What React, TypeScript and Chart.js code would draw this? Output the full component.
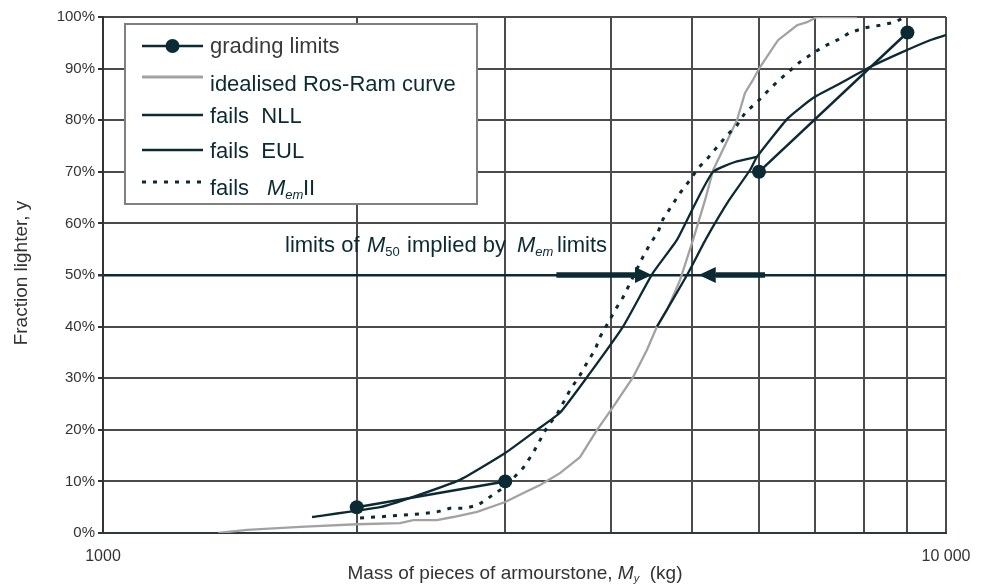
import React, { useEffect, useRef } from 'react';
import { Chart, registerables } from 'chart.js';

Chart.register(...registerables);

// ---------- data (mass in kg, fraction lighter in %) ----------
const gradingMass = [2000, 3000, 6000, 9000];
const gradingPct = [5, 10, 70, 97];

const rosRamMass = [1370, 1482, 1713, 2001, 2251, 2333, 2490, 2602, 2778, 3000, 3184, 3300, 3484, 3680, 3855, 4027, 4254, 4419, 4541, 4667, 4836, 5011, 5178, 5293, 5650, 5775, 5902, 6017, 6320, 6657, 6842, 7031, 7844];
const rosRamPct = [0, 0.6, 1.2, 1.7, 1.9, 2.5, 2.5, 3.1, 4.1, 6.0, 8.1, 9.3, 11.6, 14.7, 20, 24.4, 30.2, 35.5, 40, 43.2, 49, 56.8, 64.5, 70.3, 80, 85.3, 87.8, 90.3, 95.5, 98.4, 99, 100, 100];

const nllMass = [1770, 2131, 2333, 2651, 3000, 3272, 3484, 3751, 4139, 4491, 4796, 5065, 5293, 5619, 5967];
const nllPct = [3.1, 5.0, 7.0, 10.3, 15.5, 20, 23.3, 30.2, 40, 50.4, 56.8, 64.5, 70, 71.9, 72.9];

const eulMass = [4541, 4930, 5192, 5529, 5853, 5967, 6495, 6955, 7426, 8125, 8818, 9573, 10000];
const eulPct = [40, 50, 57, 64.5, 70.3, 72.9, 80.4, 84.3, 86.8, 90.3, 93, 95.5, 96.5];

const memMass = [2018, 2113, 2377, 2490, 2580, 2688, 2785, 2878, 3000, 3150, 3237, 3363, 3456, 3581, 3680, 3751, 3834, 3887, 3972, 4050, 4139, 4219, 4370, 4455, 4554, 4616, 4836, 4970, 5080, 5221, 5351, 5498, 5650, 5775, 5967, 6133, 6302, 6477, 6712, 6955, 7148, 7426, 7695, 8016, 8352, 8700, 8940];
const memPct = [2.9, 3.1, 3.7, 4.1, 4.8, 4.8, 5.4, 7.0, 9.0, 12.6, 15.5, 20.5, 23, 27.7, 30.6, 33, 35.5, 38, 40.7, 43.2, 45.7, 48.4, 53.5, 56, 58.3, 60.8, 65.9, 68.4, 70.7, 72.7, 74.8, 77.1, 79, 81.4, 83.5, 85.5, 87.4, 89.1, 91.3, 93, 94.2, 95.5, 97, 97.9, 98.4, 99, 100];

const xGridMass = [1000, 2000, 3000, 4000, 5000, 6000, 7000, 8000, 9000, 10000];
const xTickLabels: Record<number, string> = { 1000: '1000', 10000: '10 000' };
const yTickStep = 10;

// arrows marking the M50 limits (tail mass -> tip mass) at 50 %
const arrowFrom = [3450, 6100];
const arrowTo = [4480, 5090];
const arrowLevel = 50;

const legendLabels = ['grading limits', 'idealised Ros-Ram curve', 'fails  NLL', 'fails  EUL', 'fails'];

// ---------- styles ----------
const DARK = '#0c2a33';
const GREY = '#a2a2a2';
const GRID = '#4b4b4b';
const TEXT = '#333333';
const FONT = '"Liberation Sans", Arial, Helvetica, sans-serif';

type Part = { t: string; italic?: boolean; sub?: boolean; x?: number };

function drawRich(ctx: CanvasRenderingContext2D, x: number, y: number, parts: Part[], size: number, color: string) {
  let cx = x;
  ctx.fillStyle = color;
  ctx.textBaseline = 'alphabetic';
  ctx.textAlign = 'left';
  for (const p of parts) {
    if (p.x !== undefined) cx = p.x;
    const s = p.sub ? Math.round(size * 0.6) : size;
    ctx.font = `${p.italic ? 'italic ' : ''}${s}px ${FONT}`;
    ctx.fillText(p.t, cx, p.sub ? y + size * 0.18 : y);
    cx += ctx.measureText(p.t).width;
  }
  return cx;
}

function richWidth(ctx: CanvasRenderingContext2D, parts: Part[], size: number) {
  let w = 0;
  for (const p of parts) {
    const s = p.sub ? Math.round(size * 0.6) : size;
    ctx.font = `${p.italic ? 'italic ' : ''}${s}px ${FONT}`;
    w += ctx.measureText(p.t).width;
  }
  return w;
}

const overlayPlugin = {
  id: 'overlay',
  afterDraw(chart: any) {
    const ctx: CanvasRenderingContext2D = chart.ctx;
    const xs = chart.scales.x;
    const ys = chart.scales.y;
    ctx.save();

    // arrows
    const ay = ys.getPixelForValue(arrowLevel);
    ctx.strokeStyle = DARK;
    ctx.fillStyle = DARK;
    for (let i = 0; i < arrowFrom.length; i++) {
      const x0 = xs.getPixelForValue(arrowFrom[i]);
      const x1 = xs.getPixelForValue(arrowTo[i]);
      const dir = Math.sign(x1 - x0);
      const headLen = 17;
      ctx.lineWidth = 5.5;
      ctx.beginPath();
      ctx.moveTo(x0, ay);
      ctx.lineTo(x1 - dir * headLen, ay);
      ctx.stroke();
      ctx.beginPath();
      ctx.moveTo(x1, ay);
      ctx.lineTo(x1 - dir * headLen, ay - 8);
      ctx.lineTo(x1 - dir * headLen, ay + 8);
      ctx.closePath();
      ctx.fill();
    }

    // annotation text
    drawRich(ctx, 285, 252, [
      { t: 'limits of' },
      { t: 'M', italic: true, x: 367 },
      { t: '50', sub: true },
      { t: 'implied by', x: 407 },
      { t: 'M', italic: true, x: 517 },
      { t: 'em', italic: true, sub: true },
      { t: 'limits', x: 557 },
    ], 22, DARK);

    // legend box
    const bx = 125, by = 24, bw = 352, bh = 180;
    ctx.fillStyle = '#ffffff';
    ctx.fillRect(bx, by, bw, bh);
    ctx.strokeStyle = '#808080';
    ctx.lineWidth = 2;
    ctx.strokeRect(bx, by, bw, bh);

    const lineY = [46, 77, 115, 150, 182];
    const baseY = [53, 91, 123, 158, 195];
    const sx0 = 142, sx1 = 203, tx = 210;
    for (let i = 0; i < 5; i++) {
      ctx.beginPath();
      ctx.setLineDash(i === 4 ? [4, 7] : []);
      ctx.lineWidth = i === 1 ? 3 : i === 4 ? 3 : 2.5;
      ctx.strokeStyle = i === 1 ? GREY : DARK;
      ctx.moveTo(sx0, lineY[i]);
      ctx.lineTo(sx1, lineY[i]);
      ctx.stroke();
      ctx.setLineDash([]);
      if (i === 0) {
        ctx.fillStyle = DARK;
        ctx.beginPath();
        ctx.arc((sx0 + sx1) / 2, lineY[i], 7, 0, Math.PI * 2);
        ctx.fill();
      }
      const col = i === 0 ? '#3a3a3a' : DARK;
      if (i < 4) {
        drawRich(ctx, tx, baseY[i], [{ t: legendLabels[i] }], 22, col);
      } else {
        drawRich(ctx, tx, baseY[i], [
          { t: legendLabels[i] },
          { t: 'M', italic: true, x: 267 },
          { t: 'em', italic: true, sub: true },
          { t: 'II', x: 303 },
        ], 22, col);
      }
    }

    // axis titles
    const xt: Part[] = [
      { t: 'Mass of pieces of armourstone, ' },
      { t: 'M', italic: true },
      { t: 'y', italic: true, sub: true },
      { t: '  (kg)' },
    ];
    const w = richWidth(ctx, xt, 19);
    drawRich(ctx, 515 - w / 2, 579, xt, 19, TEXT);

    ctx.translate(22, 273);
    ctx.rotate(-Math.PI / 2);
    ctx.font = `19px ${FONT}`;
    ctx.fillStyle = TEXT;
    ctx.textAlign = 'center';
    ctx.textBaseline = 'middle';
    ctx.fillText('Fraction lighter, y', 0, 0);
    ctx.restore();
  },
};

function pts(xs: number[], ys: number[]) {
  return xs.map((x, i) => ({ x, y: ys[i] }));
}

export default function App() {
  const ref = useRef<HTMLCanvasElement | null>(null);

  useEffect(() => {
    document.body.style.margin = '0';
    if (!ref.current) return;
    const chart = new Chart(ref.current, {
      type: 'line',
      data: {
        datasets: [
          {
            label: legendLabels[0],
            data: pts(gradingMass, gradingPct),
            borderColor: DARK,
            borderWidth: 2.5,
            pointRadius: 7,
            pointBackgroundColor: DARK,
            pointBorderWidth: 0,
            segment: {
              borderColor: (c: any) => (c.p0DataIndex === 1 ? 'rgba(0,0,0,0)' : DARK),
            },
          },
          {
            label: 'NLL',
            data: pts(nllMass, nllPct),
            borderColor: DARK,
            borderWidth: 2.3,
            pointRadius: 0,
            tension: 0.15,
          },
          {
            label: 'EUL',
            data: pts(eulMass, eulPct),
            borderColor: DARK,
            borderWidth: 2.3,
            pointRadius: 0,
            tension: 0.15,
          },
          {
            label: 'Mem II',
            data: pts(memMass, memPct),
            borderColor: DARK,
            borderWidth: 3,
            borderDash: [4, 7],
            pointRadius: 0,
          },
          {
            label: legendLabels[1],
            data: pts(rosRamMass, rosRamPct),
            borderColor: GREY,
            borderWidth: 2.3,
            pointRadius: 0,
          },
        ],
      },
      options: {
        responsive: true,
        maintainAspectRatio: false,
        animation: false,
        events: [],
        layout: { padding: { top: 17, right: 39, left: 0, bottom: 0 } },
        plugins: { legend: { display: false }, tooltip: { enabled: false } },
        scales: {
          x: {
            type: 'logarithmic',
            min: 1000,
            max: 10000,
            afterBuildTicks: (s: any) => {
              s.ticks = xGridMass.map((v) => ({ value: v }));
            },
            afterFit: (s: any) => {
              s.height = 51;
            },
            grid: { color: GRID, lineWidth: 2, drawTicks: false },
            border: { display: true, color: '#2a3a40', width: 2 },
            ticks: {
              autoSkip: false,
              maxRotation: 0,
              minRotation: 0,
              padding: 14,
              color: TEXT,
              font: { family: FONT, size: 16 },
              callback: (v: any) => xTickLabels[Number(v)] ?? '',
            },
          },
          y: {
            min: 0,
            max: 100,
            afterFit: (s: any) => {
              s.width = 103;
            },
            ticks: {
              stepSize: yTickStep,
              padding: 3,
              color: TEXT,
              font: { family: FONT, size: 15 },
              callback: (v: any) => `${Math.round(Number(v))}%`,
            },
            grid: {
              color: (c: any) => (c.tick && Math.abs(c.tick.value - 50) < 1e-6 ? DARK : GRID),
              lineWidth: (c: any) => (c.tick && Math.abs(c.tick.value - 50) < 1e-6 ? 2.5 : 2),
              tickLength: 5,
              tickColor: '#333333',
            },
            border: { color: '#333333', width: 2 },
          },
        },
      },
      plugins: [overlayPlugin],
    } as any);
    return () => chart.destroy();
  }, []);

  return (
    <div style={{ position: 'fixed', left: 0, top: 0, width: 985, height: 584 }}>
      <canvas ref={ref} />
    </div>
  );
}
